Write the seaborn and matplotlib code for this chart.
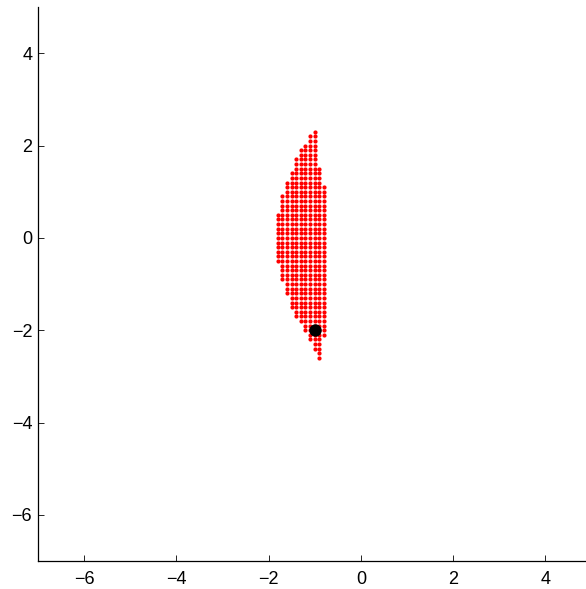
import numpy as np
import pandas as pd
import matplotlib
matplotlib.use("Agg")
import matplotlib.pyplot as plt
import seaborn as sns

# Grid columns (x) with the lowest and highest y of the red dots in each column
col_x = [-1.8, -1.7, -1.6, -1.5, -1.4, -1.3, -1.2, -1.1, -1.0, -0.9, -0.8]
col_ymin = [-0.5, -0.9, -1.2, -1.5, -1.7, -1.8, -2.0, -2.2, -2.4, -2.6, -2.1]
col_ymax = [0.5, 0.9, 1.2, 1.4, 1.7, 1.9, 2.0, 2.2, 2.3, 1.5, 1.1]
grid_step = 0.1

# Highlighted point
point_x = [-1.0]
point_y = [-2.0]

xs, ys = [], []
for cx, lo, hi in zip(col_x, col_ymin, col_ymax):
    n = int(round((hi - lo) / grid_step)) + 1
    for k in range(n):
        xs.append(cx)
        ys.append(round(lo + k * grid_step, 2))
df = pd.DataFrame({"x": xs, "y": ys})
dp = pd.DataFrame({"x": point_x, "y": point_y})

sns.set_style("white")
plt.rcParams["font.family"] = ["Liberation Sans", "DejaVu Sans"]

fig = plt.figure(figsize=(5.86, 5.89), dpi=100)
ax = fig.add_axes([0.0645, 0.0475, 0.945, 0.9403])

sns.scatterplot(data=df, x="x", y="y", ax=ax, color="#ff0000", s=9,
                linewidth=0, legend=False)
sns.scatterplot(data=dp, x="x", y="y", ax=ax, color="black", s=80,
                linewidth=0, legend=False, zorder=5)

ax.set_xlim(-7, 5)
ax.set_ylim(-7, 5)
ax.set_xticks([-6, -4, -2, 0, 2, 4])
ax.set_yticks([-6, -4, -2, 0, 2, 4])
ax.set_xticklabels(["\u22126", "\u22124", "\u22122", "0", "2", "4"])
ax.set_yticklabels(["\u22126", "\u22124", "\u22122", "0", "2", "4"])
ax.set_xlabel("")
ax.set_ylabel("")
for side in ["top", "right"]:
    ax.spines[side].set_visible(False)
for side in ["left", "bottom"]:
    ax.spines[side].set_color("black")
    ax.spines[side].set_linewidth(0.9)
ax.tick_params(axis="both", direction="in", length=4, width=0.6,
               colors="black", labelsize=13, bottom=True, left=True)
ax.tick_params(axis="x", pad=7)
ax.tick_params(axis="y", pad=4)

fig.savefig("out.png", dpi=100)
